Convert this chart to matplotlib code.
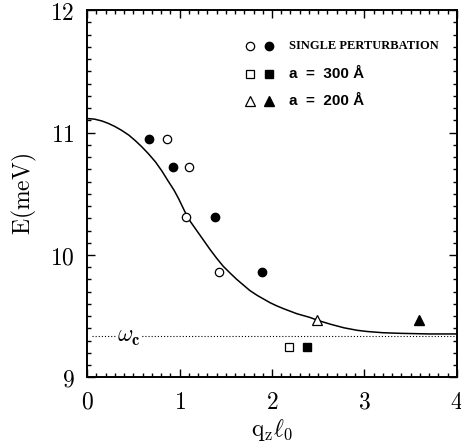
import numpy as np
import matplotlib
matplotlib.use("Agg")
import matplotlib.pyplot as plt
from matplotlib.ticker import MultipleLocator, FuncFormatter

plt.rcParams['mathtext.fontset'] = 'cm'

# single perturbation data
sp_open_x = [0.86, 1.10, 1.07, 1.43]
sp_open_y = [10.95, 10.72, 10.31, 9.86]
sp_fill_x = [0.67, 0.93, 1.38, 1.89]
sp_fill_y = [10.95, 10.72, 10.31, 9.86]

# a = 300 A
sq_open_x = [2.18]
sq_open_y = [9.25]
sq_fill_x = [2.38]
sq_fill_y = [9.25]

# a = 200 A
tri_open_x = [2.49]
tri_open_y = [9.47]
tri_fill_x = [3.59]
tri_fill_y = [9.47]

# theory curve
curve_x = [0.00, 0.08, 0.16, 0.23, 0.30, 0.37, 0.45, 0.52, 0.59, 0.66, 0.74, 0.81,
           0.88, 0.94, 0.99, 1.06, 1.12, 1.19, 1.26, 1.33, 1.40, 1.47, 1.55, 1.62,
           1.69, 1.76, 1.84, 1.91, 1.98, 2.05, 2.13, 2.20, 2.27, 2.34, 2.41, 2.50,
           2.63, 2.78, 2.92, 3.03, 3.20, 3.39, 3.70, 4.00]
curve_y = [11.115, 11.11, 11.095, 11.075, 11.05, 11.02, 10.98, 10.935, 10.885, 10.83, 10.76, 10.685,
           10.60, 10.53, 10.46, 10.35, 10.27, 10.195, 10.12, 10.045, 9.975, 9.91, 9.85, 9.80,
           9.755, 9.71, 9.67, 9.64, 9.61, 9.585, 9.56, 9.54, 9.52, 9.505, 9.49, 9.465,
           9.435, 9.405, 9.385, 9.375, 9.365, 9.36, 9.355, 9.355]

omega_c = 9.34

fig = plt.figure(figsize=(4.61, 4.44), dpi=100)
ax = fig.add_axes([0.189, 0.150, 0.802, 0.827])

ax.plot(curve_x, curve_y, color='black', lw=1.1)
ax.axhline(omega_c, xmin=0.012, color='black', lw=0.8, ls=(0, (1, 1.8)))
ax.text(0.455, omega_c - 0.005, r'$\omega_{\mathbf{c}}$', fontsize=17, ha='center', va='center',
        bbox=dict(facecolor='white', edgecolor='none', pad=0.5))

ms = 6
ax.plot(sp_open_x, sp_open_y, 'o', mfc='white', mec='black', mew=0.9, ms=ms)
ax.plot(sp_fill_x, sp_fill_y, 'o', color='black', ms=ms)
ax.plot(sq_open_x, sq_open_y, 's', mfc='white', mec='black', mew=0.9, ms=ms)
ax.plot(sq_fill_x, sq_fill_y, 's', color='black', ms=ms)
ax.plot(tri_open_x, tri_open_y, '^', mfc='white', mec='black', mew=0.9, ms=7)
ax.plot(tri_fill_x, tri_fill_y, '^', color='black', ms=7)

# hand made legend
leg_y = [11.71, 11.48, 11.26]
ax.plot([1.76], [leg_y[0]], 'o', mfc='white', mec='black', mew=0.9, ms=ms)
ax.plot([1.97], [leg_y[0]], 'o', color='black', ms=ms)
ax.plot([1.76], [leg_y[1]], 's', mfc='white', mec='black', mew=0.9, ms=ms)
ax.plot([1.97], [leg_y[1]], 's', color='black', ms=ms)
ax.plot([1.76], [leg_y[2]], '^', mfc='white', mec='black', mew=0.9, ms=7)
ax.plot([1.97], [leg_y[2]], '^', color='black', ms=7)
ax.text(2.18, leg_y[0], 'SINGLE PERTURBATION', fontsize=9, family='Liberation Serif',
        fontweight='semibold', va='center')
ax.text(2.18, leg_y[1], 'a  =  300 Å', fontsize=11, fontweight='bold',
        family='Liberation Sans', va='center')
ax.text(2.18, leg_y[2], 'a  =  200 Å', fontsize=11, fontweight='bold',
        family='Liberation Sans', va='center')

ax.set_xlim(0, 4)
ax.set_ylim(9, 12)
ax.xaxis.set_major_locator(MultipleLocator(1))
ax.xaxis.set_minor_locator(MultipleLocator(0.1))
ax.yaxis.set_major_locator(MultipleLocator(1))
ax.yaxis.set_minor_locator(MultipleLocator(0.1))
fmt = FuncFormatter(lambda v, p: r'$%d$' % round(v))
ax.xaxis.set_major_formatter(fmt)
ax.yaxis.set_major_formatter(fmt)
ax.tick_params(which='both', direction='in', top=True, right=True, width=1.0, labelsize=17)
ax.tick_params(which='major', length=6, pad=9)
ax.tick_params(which='minor', length=3)
for s in ax.spines.values():
    s.set_linewidth(1.4)

ax.set_xlabel(r'$\mathrm{q_z}\ell_0$', fontsize=17, labelpad=2)
ax.set_ylabel(r'$\mathrm{E(meV)}$', fontsize=17, labelpad=8)

fig.savefig('out.png', dpi=100)
